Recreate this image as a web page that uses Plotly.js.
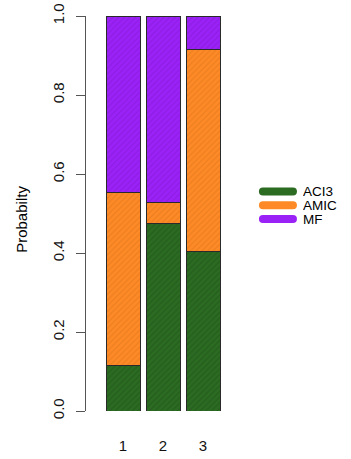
<!DOCTYPE html>
<html>
<head>
<meta charset="utf-8">
<script src="https://cdn.plot.ly/plotly-3.0.1.min.js"></script>
<style>
  html, body { margin: 0; padding: 0; background: #fff; }
  #chart { width: 351px; height: 459px; }
</style>
</head>
<body>
<div id="chart"></div>
<script>
// Stacked probabilities per group
const groups = [1, 2, 3];
const seriesNames = ['ACI3', 'AMIC', 'MF'];
const aci3 = [0.116, 0.474, 0.405];
const amic = [0.437, 0.054, 0.511];
const mf   = [0.447, 0.472, 0.084];
const yTicks = [0, 0.2, 0.4, 0.6, 0.8, 1.0];
const yTickText = ['0.0', '0.2', '0.4', '0.6', '0.8', '1.0'];

const fills = ['#2b6b22', '#fd8a26', '#9b22f6'];
const hatch = ['#1a4714', '#d26c16', '#7612c4'];
const values = [aci3, amic, mf];

const traces = seriesNames.map((name, i) => ({
  type: 'bar',
  name: name,
  x: groups,
  y: values[i],
  width: 0.85,
  showlegend: false,
  marker: {
    color: fills[i],
    line: { color: '#2a2a2a', width: 1 },
    pattern: {
      shape: '/', fillmode: 'overlay', bgcolor: fills[i],
      fgcolor: hatch[i], fgopacity: 0.45, size: 4, solidity: 0.25
    }
  },
  hoverinfo: 'skip'
}));

// Legend drawn as thick rounded keys with labels beside them
const shapes = [];
const annotations = [];
const legendTop = 0.556;   // paper y of the first key
const legendStep = 0.0350; // vertical spacing between keys
const keyX = 1.123;        // paper x anchor of the keys
seriesNames.forEach((name, i) => {
  const yy = legendTop - i * legendStep;
  shapes.push({
    type: 'path', xref: 'paper', yref: 'paper',
    xsizemode: 'pixel', ysizemode: 'pixel', xanchor: keyX, yanchor: yy,
    path: 'M 4,-4 L 34,-4 Q 38,-4 38,0 Q 38,4 34,4 L 4,4 Q 0,4 0,0 Q 0,-4 4,-4 Z',
    fillcolor: fills[i], line: { width: 0 }
  });
  annotations.push({
    xref: 'paper', yref: 'paper', x: keyX, y: yy,
    xshift: 43, xanchor: 'left', yanchor: 'middle', showarrow: false,
    borderpad: 0, height: 13,
    text: name, font: { family: 'Liberation Sans, Arial, sans-serif', size: 13.5, color: '#000' }
  });
});

annotations.push({
  xref: 'paper', yref: 'paper', x: 0, xshift: -64, y: 0.484,
  xanchor: 'center', yanchor: 'middle', showarrow: false, textangle: -90,
  text: 'Probabilty', font: { family: 'Liberation Sans, Arial, sans-serif', size: 15, color: '#000' }
});

const layout = {
  width: 351, height: 459,
  margin: { l: 86, r: 111, t: 16, b: 48 },
  paper_bgcolor: '#fff', plot_bgcolor: '#fff',
  barmode: 'stack',
  showlegend: false,
  font: { family: 'Liberation Sans, Arial, sans-serif', size: 15, color: '#000' },
  xaxis: {
    range: [0.075, 3.925],
    tickmode: 'array', tickvals: groups, ticktext: groups.map(String),
    ticks: '', showline: false, showgrid: false, zeroline: false,
    ticklabelstandoff: 24,
    tickfont: { size: 15, color: '#111' }
  },
  yaxis: {
    range: [0, 1],
    tickmode: 'array', tickvals: yTicks, ticktext: yTickText,
    tickangle: -90,
    ticks: 'outside', ticklen: 9, tickcolor: '#555', tickwidth: 1,
    showline: true, linecolor: '#555', linewidth: 1,
    showgrid: false, zeroline: false,
    ticklabelstandoff: 6,
    tickfont: { size: 15, color: '#111' }
  },
  shapes: shapes,
  annotations: annotations
};

Plotly.newPlot('chart', traces, layout, { staticPlot: true, displayModeBar: false });
</script>
</body>
</html>
